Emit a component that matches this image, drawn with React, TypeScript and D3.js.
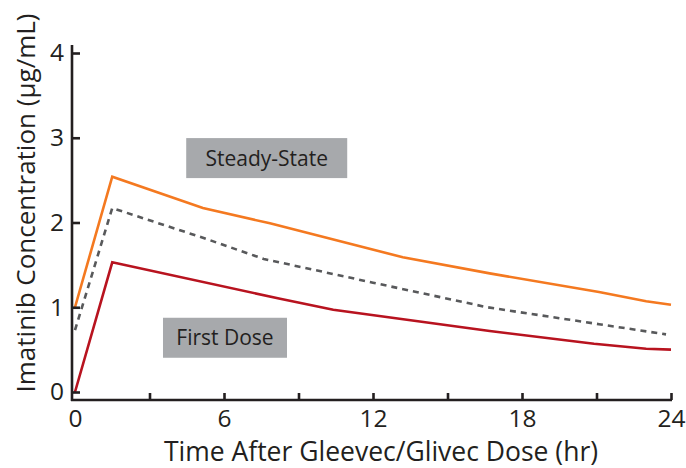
import { useEffect, useRef } from "react";
import * as d3 from "d3";

type Pt = [number, number];

// hours after dose, concentration in µg/mL
const steadyState: Pt[] = [
  [0, 1.0], [1.5, 2.54], [5.15, 2.17], [7.85, 1.99], [13.2, 1.59], [16.7, 1.4], [21.1, 1.18], [23, 1.07], [24, 1.03],
];
const middle: Pt[] = [
  [0, 0.73], [1.5, 2.17], [5.15, 1.82], [7.6, 1.57], [12, 1.29], [16.6, 1.0], [21.1, 0.8], [23.8, 0.68],
];
const firstDose: Pt[] = [
  [0, 0], [1.5, 1.53], [8.26, 1.1], [10.4, 0.97], [16.7, 0.72], [20.9, 0.57], [23, 0.51], [24, 0.5],
];

const xTicks = [0, 3, 6, 9, 12, 15, 18, 21, 24];
const yTicks = [0, 1, 2, 3, 4];

const labels = [
  { text: "Steady-State", hour: 7.72, value: 2.76, w: 161 },
  { text: "First Dose", hour: 6.04, value: 0.64, w: 124 },
];

const FONT = "'Open Sans', 'Noto Sans', sans-serif";
const INK = "#231f20";

export default function App(): JSX.Element {
  const ref = useRef<SVGSVGElement | null>(null);

  useEffect(() => {
    if (!ref.current) return;
    const svg = d3.select(ref.current);
    svg.selectAll("*").remove();

    const x = d3.scaleLinear().domain([0, 24]).range([75, 671]);
    const y = d3.scaleLinear().domain([0, 4]).range([392, 53]);

    // grey label boxes
    labels.forEach((l) => {
      const cx = x(l.hour);
      const cy = y(l.value);
      svg
        .append("rect")
        .attr("x", cx - l.w / 2)
        .attr("y", cy - 20)
        .attr("width", l.w)
        .attr("height", 40)
        .attr("fill", "#a7a9ac");
      svg
        .append("text")
        .attr("x", cx)
        .attr("y", cy + 7.5)
        .attr("text-anchor", "middle")
        .attr("font-family", FONT)
        .attr("font-size", 21)
        .attr("fill", INK)
        .text(l.text);
    });

    const line = d3
      .line<Pt>()
      .x((d) => x(d[0]))
      .y((d) => y(d[1]));

    const series = [
      { data: firstDose, color: "#b8131f", dash: null },
      { data: middle, color: "#58595b", dash: "6,5" },
      { data: steadyState, color: "#f47920", dash: null },
    ];
    series.forEach((s) => {
      svg
        .append("path")
        .datum(s.data)
        .attr("d", line)
        .attr("fill", "none")
        .attr("stroke", s.color)
        .attr("stroke-width", 2.6)
        .attr("stroke-dasharray", s.dash)
        .attr("stroke-linejoin", "miter");
    });

    // axes
    const gy = svg.append("g").attr("transform", "translate(72,0)");
    gy.call(
      d3.axisLeft(y).tickValues(yTicks).tickSize(-8).tickSizeOuter(0).tickPadding(8).tickFormat(d3.format("d")),
    );
    const gx = svg.append("g").attr("transform", "translate(0,400)");
    gx.call(
      d3
        .axisBottom(x)
        .tickValues(xTicks)
        .tickSize(-7)
        .tickSizeOuter(0)
        .tickPadding(10)
        .tickFormat((d) => ((d as number) % 6 === 0 ? String(d) : "")),
    );
    [gx, gy].forEach((g) => {
      g.select(".domain").remove();
      g.selectAll("line").attr("stroke", INK).attr("stroke-width", 2.6);
      g.selectAll("text").attr("font-family", FONT).attr("font-size", 24.5).attr("fill", INK);
    });
    gx.selectAll(".tick").filter((d) => d === 0).select("line").remove();

    svg
      .append("line")
      .attr("x1", 72)
      .attr("x2", 72)
      .attr("y1", 45)
      .attr("y2", 401)
      .attr("stroke", INK)
      .attr("stroke-width", 2.6);
    svg
      .append("line")
      .attr("x1", 71)
      .attr("x2", 672)
      .attr("y1", 400)
      .attr("y2", 400)
      .attr("stroke", INK)
      .attr("stroke-width", 2.6);

    svg
      .append("text")
      .attr("x", 381)
      .attr("y", 461)
      .attr("text-anchor", "middle")
      .attr("font-family", FONT)
      .attr("font-size", 26.5)
      .attr("fill", INK)
      .text("Time After Gleevec/Glivec Dose (hr)");

    svg
      .append("text")
      .attr("transform", "translate(35,203) rotate(-90)")
      .attr("text-anchor", "middle")
      .attr("font-family", FONT)
      .attr("font-size", 26)
      .attr("fill", INK)
      .text("Imatinib Concentration (µg/mL)");
  }, []);

  return (
    <svg
      ref={ref}
      width={686}
      height={468}
      style={{ position: "absolute", left: 0, top: 0, background: "#fff" }}
    />
  );
}
